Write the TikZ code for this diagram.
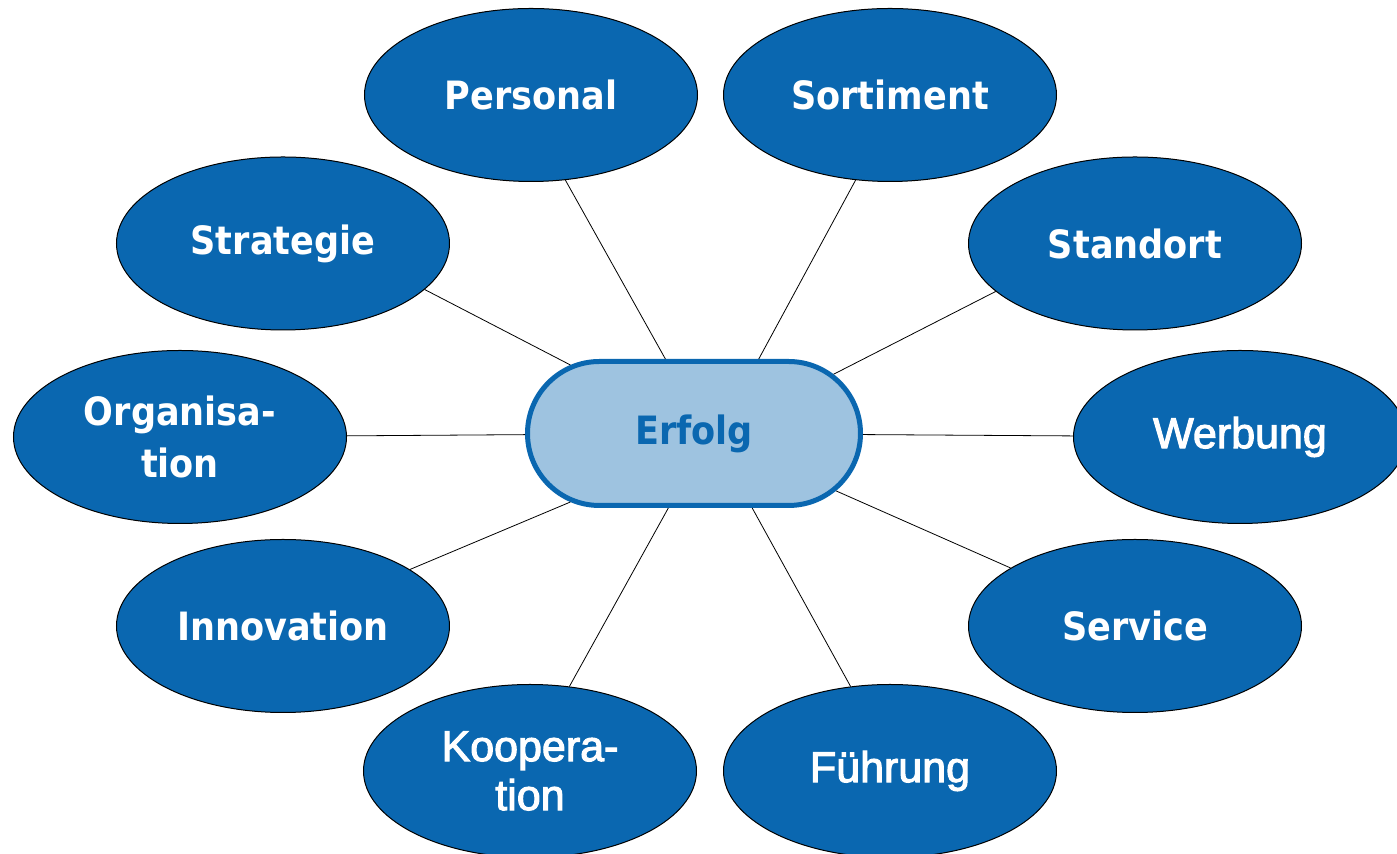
\documentclass[tikz,border=0pt]{standalone}
\usepackage{fontspec}
\setmainfont{DejaVu Sans Condensed}
\newfontfamily\arial{Liberation Sans}[FakeBold=2.5]
\tikzset{>=latex}
\usetikzlibrary{positioning,shapes.geometric,shapes.misc}
\definecolor{bubbleblue}{HTML}{0A67B0}
\definecolor{hubfill}{HTML}{9EC3E0}
\tikzset{
  bubble/.style={draw, ellipse, line width=0.5pt, fill=bubbleblue, text=white, minimum width=166.5pt, minimum height=86.5pt, inner sep=0pt, align=center, font=\fontsize{19.5}{26}\selectfont\bfseries},
  bubblearial/.style={bubble, font=\fontsize{21.5}{24.5}\selectfont\arial},
  hub/.style={draw=bubbleblue, rounded rectangle, line width=2.5pt, fill=hubfill, text=bubbleblue, minimum width=166.5pt, minimum height=72pt, inner sep=0pt, font=\fontsize{19.5}{26}\selectfont\bfseries}
}

\begin{document}
\begin{tikzpicture}
      \useasboundingbox (-347pt,-210.25pt) rectangle (351.5pt,216.75pt);
      \node[hub] (n0) at (0,0) {\raisebox{-1.5pt}{Erfolg}};
      \coordinate[above of=n0, node distance=169.25pt] (aux1);
      \coordinate[above of=n0, node distance=95pt] (aux2);
      \coordinate[below of=n0, node distance=96.25pt] (aux3);
      \coordinate[below of=n0, node distance=168.75pt] (aux4);
      \node[bubble, left of=aux1, node distance=81.5pt] (n1) {Personal};
      \node[bubble, right of=aux1, node distance=98pt] (n2) {Sortiment};
      \node[bubble, left of=aux2, node distance=205.5pt] (n3) {Strategie};
      \node[bubble, right of=aux2, node distance=220.5pt] (n4) {Standort};
      \node[bubble, left of=n0, node distance=257pt, yshift=-1.75pt] (n5) {Organisa-\\tion};
      \node[bubblearial, right of=n0, node distance=273pt, yshift=-1.75pt] (n6) {Werbung};
      \node[bubble, left of=aux3, node distance=205.5pt] (n7) {Innovation};
      \node[bubble, right of=aux3, node distance=220.5pt] (n8) {Service};
      \node[bubblearial, left of=aux4, node distance=82pt] (n9) {Koopera-\\tion};
      \node[bubblearial, right of=aux4, node distance=98pt] (n10) {Führung};
      \draw (n1.-68) to (n0.111);
      \draw (n2.-112) to (n0.49);
      \draw (n3.-18) to (n0.151);
      \draw (n4.-161) to (n0.23);
      \draw (n5) to (n0);
      \draw (n0) to (n6);
      \draw (n7.24) to (n0.-151);
      \draw (n8.155) to (n0.-22);
      \draw (n9.65) to (n0.-109);
      \draw (n10.115) to (n0.-52);
    \end{tikzpicture}
\end{document}
